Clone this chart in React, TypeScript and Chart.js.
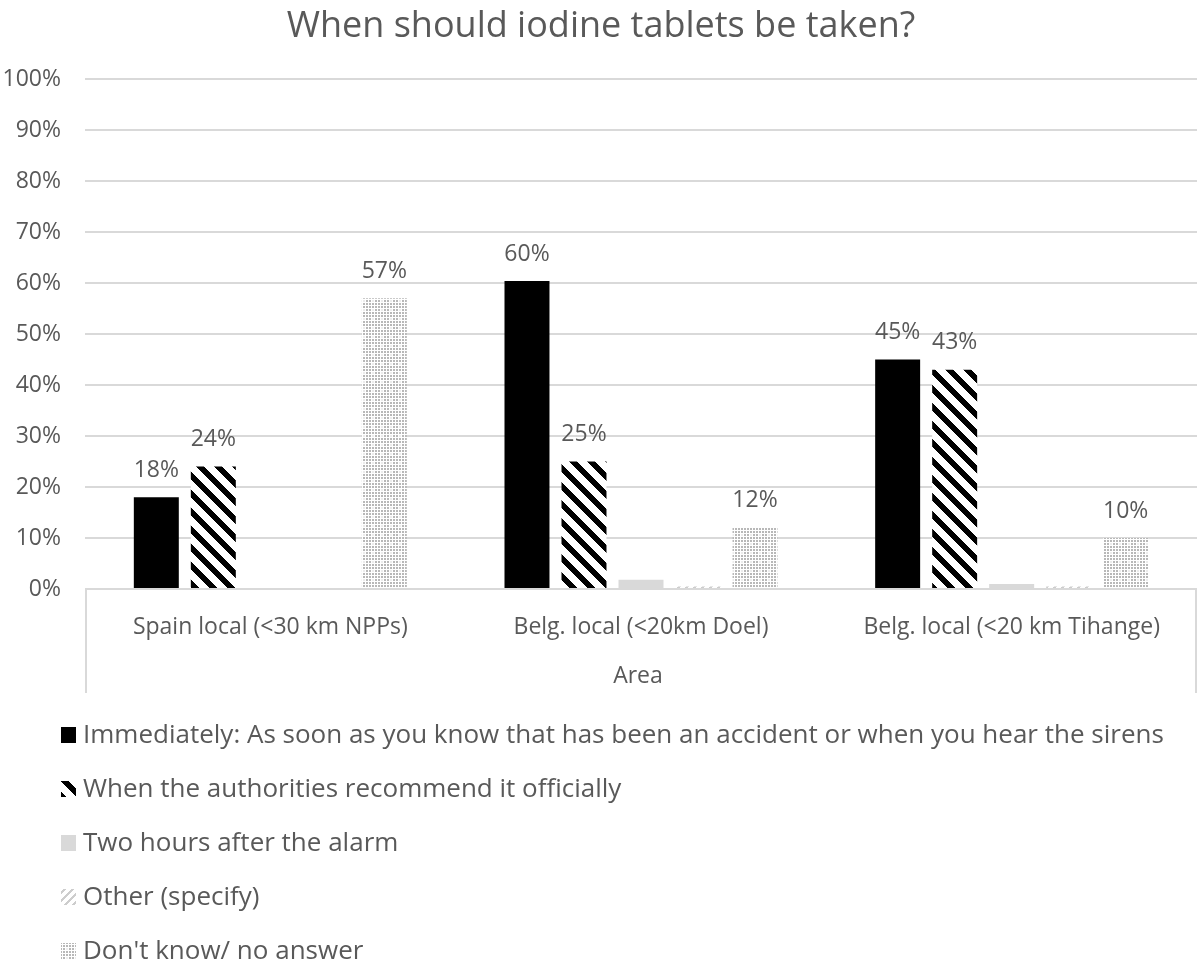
import React, { useEffect, useRef } from "react";
import { Chart, registerables } from "chart.js";

Chart.register(...registerables);

const chartTitle = "When should iodine tablets be taken?";
const axisTitle = "Area";
const categories = [
  "Spain local (<30 km NPPs)",
  "Belg. local (<20km Doel)",
  "Belg. local (<20 km Tihange)",
];
const seriesNames = [
  "Immediately: As soon as you know that has been an accident or when you hear the sirens",
  "When the authorities recommend it officially",
  "Two hours after the alarm",
  "Other (specify)",
  "Don't know/ no answer",
];
const immediately = [18, 60.4, 45];
const whenAuthorities = [24, 25, 43];
const twoHours = [0, 1.8, 1];
const otherSpecify = [0, 0.5, 0.5];
const dontKnow = [57, 12, 10];
const yMax = 100;
const yStep = 10;

const TEXT = "#595959";
const FONT = "'Open Sans'";

type RGB = [number, number, number];

function makeTile(w: number, h: number, fn: (x: number, y: number) => RGB) {
  const c = document.createElement("canvas");
  c.width = w;
  c.height = h;
  const ctx = c.getContext("2d")!;
  const img = ctx.createImageData(w, h);
  for (let y = 0; y < h; y++) {
    for (let x = 0; x < w; x++) {
      const [r, g, b] = fn(x, y);
      const i = (y * w + x) * 4;
      img.data[i] = r;
      img.data[i + 1] = g;
      img.data[i + 2] = b;
      img.data[i + 3] = 255;
    }
  }
  ctx.putImageData(img, 0, 0);
  return c;
}

export default function App() {
  const ref = useRef<HTMLCanvasElement | null>(null);

  useEffect(() => {
    document.body.style.margin = "0";
    const canvas = ref.current!;
    const ctx = canvas.getContext("2d")!;

    const stripeTile = makeTile(18, 18, (x, y) => {
      const m = (((x - y) % 18) + 18) % 18;
      return m < 8 ? [0, 0, 0] : [255, 255, 255];
    });
    const otherTile = makeTile(8, 8, (x, y) => {
      const m = (x + y) % 8;
      return m < 3 ? [205, 205, 205] : [255, 255, 255];
    });
    const dotsTile = makeTile(9, 9, (x, y) => {
      if (x % 3 === 2 || y % 3 === 2) return [255, 255, 255];
      if (x >= 3 && x < 5 && y >= 3 && y < 5) return [235, 235, 235];
      return [184, 184, 184];
    });

    const stripePattern = ctx.createPattern(stripeTile, "repeat")!;
    const otherPattern = ctx.createPattern(otherTile, "repeat")!;
    const dotsPattern = ctx.createPattern(dotsTile, "repeat")!;

    const fills: (string | CanvasPattern)[] = [
      "#000000",
      stripePattern,
      "#d9d9d9",
      otherPattern,
      dotsPattern,
    ];
    const seriesValues = [immediately, whenAuthorities, twoHours, otherSpecify, dontKnow];

    const CHART_BOTTOM = 589;

    const overlay = {
      id: "overlay",
      afterDatasetsDraw(chart: any) {
        const c = chart.ctx as CanvasRenderingContext2D;
        c.save();
        c.font = `23px ${FONT}`;
        c.fillStyle = TEXT;
        c.textAlign = "center";
        c.textBaseline = "middle";
        chart.data.datasets.forEach((ds: any, di: number) => {
          const meta = chart.getDatasetMeta(di);
          meta.data.forEach((el: any, i: number) => {
            const v = ds.data[i] as number;
            if (v >= 5) c.fillText(`${Math.round(v)}%`, el.x, el.y - 27);
          });
        });
        c.restore();
      },
      afterDraw(chart: any) {
        const c = chart.ctx as CanvasRenderingContext2D;
        const area = chart.chartArea;
        c.save();
        // title
        c.font = `36px ${FONT}`;
        c.fillStyle = TEXT;
        c.textAlign = "center";
        c.textBaseline = "alphabetic";
        c.fillText(chartTitle, 601, 37);
        // axis box
        c.strokeStyle = "#d9d9d9";
        c.lineWidth = 2;
        c.beginPath();
        c.moveTo(area.left + 1, area.bottom);
        c.lineTo(area.left + 1, 693);
        c.moveTo(area.right - 1, area.bottom);
        c.lineTo(area.right - 1, 693);
        c.stroke();
        // axis title
        c.font = `23px ${FONT}`;
        c.textBaseline = "middle";
        c.fillText(axisTitle, (area.left + area.right) / 2 - 3, 676);
        // legend
        c.textAlign = "left";
        c.font = `26px ${FONT}`;
        seriesNames.forEach((name, i) => {
          const y = 735 + i * 54;
          c.fillStyle = fills[i] as any;
          c.fillRect(61, y - 8, 15, 16);
          c.fillStyle = TEXT;
          c.fillText(name, 83, y + 1);
        });
        c.restore();
      },
    };

    const chart = new Chart(canvas, {
      type: "bar",
      data: {
        labels: categories,
        datasets: seriesNames.map((name, i) => ({
          label: name,
          data: seriesValues[i],
          backgroundColor: fills[i] as any,
          borderWidth: 0,
          categoryPercentage: 0.769,
          barPercentage: 0.789,
        })),
      },
      options: {
        responsive: false,
        animation: false,
        devicePixelRatio: 1,
        layout: { padding: { left: 0, right: 3, top: 79, bottom: 0 } },
        plugins: {
          legend: { display: false },
          title: { display: false },
          tooltip: { enabled: false },
        },
        scales: {
          x: {
            grid: { display: false, drawTicks: false },
            border: { display: false },
            ticks: {
              color: TEXT,
              font: { family: FONT, size: 23 },
              padding: 25,
              maxRotation: 0,
              autoSkip: false,
            },
            afterFit: (s: any) => {
              s.height = 966 - CHART_BOTTOM;
            },
          },
          y: {
            min: 0,
            max: yMax,
            grid: { color: "#d9d9d9", lineWidth: 2, drawTicks: false },
            border: { display: false },
            ticks: {
              stepSize: yStep,
              color: TEXT,
              font: { family: FONT, size: 23 },
              padding: 24,
              callback: (v: any) => `${v}%`,
            },
            afterFit: (s: any) => {
              s.width = 85;
            },
          },
        },
      },
      plugins: [overlay],
    });

    return () => chart.destroy();
  }, []);

  return (
    <div style={{ width: 1200, height: 966 }}>
      <canvas ref={ref} width={1200} height={966} style={{ display: "block" }} />
    </div>
  );
}
